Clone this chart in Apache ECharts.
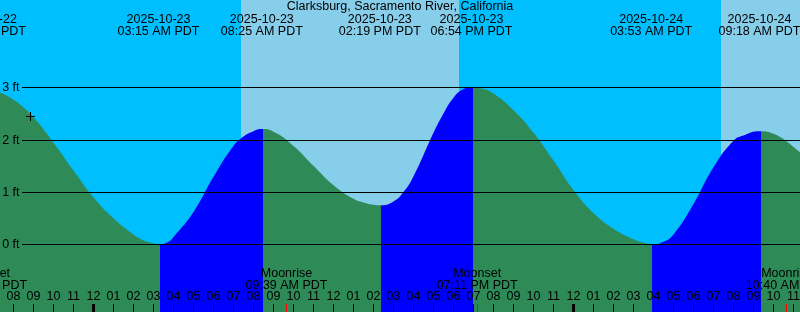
<!DOCTYPE html>
<html><head><meta charset="utf-8">
<script src="https://cdn.jsdelivr.net/npm/echarts@6/dist/echarts.min.js"></script>
<style>html,body{margin:0;padding:0;background:#00BFFF;overflow:hidden}#c{width:800px;height:312px}</style>
</head><body><div id="c"></div>
<script>
// All times: hours relative to 2025-10-23 00:00 PDT
const titleText = 'Clarksburg, Sacramento River, California';

// tide curve (hours, feet)
const tideHours = [-5.425, -5, -4, -3, -2, -1, 0, 1, 2, 2.5, 3, 3.25, 3.75, 4, 5, 6, 7, 7.5, 8, 8.417, 9, 10, 11, 12, 13, 13.5, 14, 14.317, 15, 15.5, 16, 17, 17.5, 18, 18.5, 18.9, 19.4, 20, 21, 22, 23, 24, 25, 26, 27, 27.5, 27.883, 28.5, 29, 30, 31, 32, 32.5, 33.3, 34, 35, 36];
const tideFeet  = [2.95, 2.93, 2.76, 2.42, 1.94, 1.41, 0.90, 0.50, 0.19, 0.08, 0.02, 0.0, 0.05, 0.14, 0.62, 1.29, 1.88, 2.06, 2.16, 2.20, 2.15, 1.88, 1.50, 1.13, 0.87, 0.80, 0.755, 0.745, 0.82, 1.0, 1.30, 2.13, 2.50, 2.80, 2.965, 3.0, 2.975, 2.88, 2.56, 2.13, 1.60, 1.04, 0.60, 0.30, 0.10, 0.035, 0.0, 0.05, 0.19, 0.77, 1.47, 1.98, 2.08, 2.16, 2.11, 1.86, 1.52];

// rising / falling switch points (first segment falling)
const turnHours = [3.33, 8.46, 14.36, 18.96, 27.91, 33.37];

// daylight
const dayStartHours = [7.375, 31.375];
const dayEndHours   = [18.275, 42.275];

// tide events (top labels)
const tideEventHours = [-5.43, 3.25, 8.417, 14.317, 18.9, 27.883, 33.3];
const tideEventDates = ['2025-10-22', '2025-10-23', '2025-10-23', '2025-10-23', '2025-10-23', '2025-10-24', '2025-10-24'];
const tideEventTimes = ['06:34 PM PDT', '03:15 AM PDT', '08:25 AM PDT', '02:19 PM PDT', '06:54 PM PDT', '03:53 AM PDT', '09:18 AM PDT'];

// moon events (bottom labels)
const moonHours = [-5.37, 9.65, 19.183, 34.667];
const moonNames = ['Moonset', 'Moonrise', 'Moonset', 'Moonrise'];
const moonTimes = ['06:38 PM PDT', '09:39 AM PDT', '07:11 PM PDT', '10:40 AM PDT'];

// midnights
const midnightHours = [0, 24];

// level lines
const levelFeet = [0, 1, 2, 3];
const levelLabels = ['0 ft', '1 ft', '2 ft', '3 ft'];

// hour tick labels for hours -5 .. 36
const hourTickLabels = ['07','08','09','10','11','12',
  '01','02','03','04','05','06','07','08','09','10','11','12',
  '01','02','03','04','05','06','07','08','09','10','11','12',
  '01','02','03','04','05','06','07','08','09','10','11','12'];
const firstHour = -5, lastHour = 36;

// current-time marker
const nowHour = [-3.15];
const nowFeet = [2.44];

const C_NIGHT = '#00BFFF', C_DAY = '#87CEEB', C_FALL = '#2E8B57', C_RISE = '#0000FF';
const FONT = '12.5px "Liberation Sans", Arial, sans-serif';
const FF = '"Liberation Sans", Arial, sans-serif';

const Y0PX = 244.4, PXPERFT = 52.4, H = 312;
const Y_MIN = -(H - Y0PX) / PXPERFT, Y_MAX = Y0PX / PXPERFT;

function txt(x, y, s, align) {
  return { type: 'text', x: x, y: y, silent: true,
    style: { text: s, fill: '#000', font: FONT, align: align || 'center', verticalAlign: 'middle' } };
}

const pieces = [];
let prev = null, rising = false;
turnHours.forEach(h => {
  const p = { color: rising ? C_RISE : C_FALL, lt: h };
  if (prev !== null) p.gte = prev;
  pieces.push(p); prev = h; rising = !rising;
});
pieces.push({ gte: prev, color: rising ? C_RISE : C_FALL });

const chart = echarts.init(document.getElementById('c'), null, { renderer: 'canvas' });
chart.setOption({
  animation: false,
  backgroundColor: C_NIGHT,
  grid: { left: -6.5, right: -13.5, top: 0, bottom: 0, outerBoundsMode: 'none', containLabel: false },
  xAxis: {
    type: 'value', min: firstHour, max: lastHour, interval: 1, z: 10, position: 'bottom',
    axisLine: { show: false, onZero: false }, splitLine: { show: false },
    axisTick: { inside: true, length: 8, lineStyle: { color: '#000', width: 1 } },
    axisLabel: { inside: true, margin: 15, verticalAlign: 'middle', color: '#000', fontSize: 12.5, fontFamily: FF,
      showMinLabel: true, showMaxLabel: true,
      formatter: v => hourTickLabels[Math.round(v) - firstHour] || '' }
  },
  yAxis: { type: 'value', min: Y_MIN, max: Y_MAX, show: false },
  visualMap: { type: 'piecewise', show: false, dimension: 0, seriesIndex: 1, pieces: pieces },
  graphic: [ { type: 'text', x: 400, y: 6.7, z: 100, silent: true,
    style: { text: titleText, fill: '#000', font: FONT, align: 'center', verticalAlign: 'middle' } } ],
  series: [
    { type: 'custom', z: 1, silent: true,
      data: dayStartHours.map((s, i) => [s, dayEndHours[i]]),
      renderItem: (p, api) => {
        const x0 = Math.round(api.coord([api.value(0), 0])[0]);
        const x1 = Math.round(api.coord([api.value(1), 0])[0]);
        return { type: 'rect', shape: { x: x0, y: 0, width: x1 - x0, height: H }, style: { fill: C_DAY } };
      } },
    { type: 'line', z: 2, silent: true,
      data: tideHours.map((h, i) => [h, tideFeet[i]]),
      smooth: 0.5, symbol: 'none', showSymbol: false,
      lineStyle: { width: 0 }, areaStyle: { origin: 'start', opacity: 1 } },
    { type: 'custom', z: 5, silent: true,
      data: levelFeet.map(v => [firstHour, v]),
      renderItem: (p, api) => {
        const y = Math.round(api.coord([firstHour, api.value(1)])[1]) + 0.5;
        return { type: 'group', children: [
          { type: 'line', shape: { x1: 22, y1: y, x2: 800, y2: y }, style: { stroke: '#000', lineWidth: 1 } },
          txt(19.5, y, levelLabels[p.dataIndex], 'right') ] };
      } },
    { type: 'custom', z: 12, silent: true,
      data: midnightHours.map(h => [h, 0, 0]).concat(moonHours.map(h => [h, 0, 1])),
      renderItem: (p, api) => {
        const x = api.coord([api.value(0), 0])[0];
        const moon = api.value(2) === 1;
        return { type: 'rect',
          shape: moon ? { x: Math.floor(x), y: H - 8, width: 1, height: 8 } : { x: Math.round(x - 1.5), y: H - 8, width: 3, height: 8 },
          style: { fill: moon ? '#FF0000' : '#000' } };
      } },
    { type: 'custom', z: 12, silent: true,
      data: tideEventHours.map(h => [h, 0]),
      renderItem: (p, api) => {
        const x = api.coord([api.value(0), 0])[0];
        return { type: 'group', children: [ txt(x, 19.5, tideEventDates[p.dataIndex]), txt(x, 31.4, tideEventTimes[p.dataIndex]) ] };
      } },
    { type: 'custom', z: 12, silent: true,
      data: moonHours.map(h => [h, 0]),
      renderItem: (p, api) => {
        const x = api.coord([api.value(0), 0])[0];
        return { type: 'group', children: [ txt(x, 273.8, moonNames[p.dataIndex]), txt(x, 285.3, moonTimes[p.dataIndex]) ] };
      } },
    { type: 'custom', z: 12, silent: true,
      data: nowHour.map((h, i) => [h, nowFeet[i]]),
      renderItem: (p, api) => {
        const c = api.coord([api.value(0), api.value(1)]);
        const cx = Math.floor(c[0]), cy = Math.floor(c[1]);
        return { type: 'group', children: [
          { type: 'rect', shape: { x: cx - 4, y: cy, width: 9, height: 1 }, style: { fill: '#000' } },
          { type: 'rect', shape: { x: cx, y: cy - 4, width: 1, height: 9 }, style: { fill: '#000' } } ] };
      } }
  ]
});
</script>
</body></html>
